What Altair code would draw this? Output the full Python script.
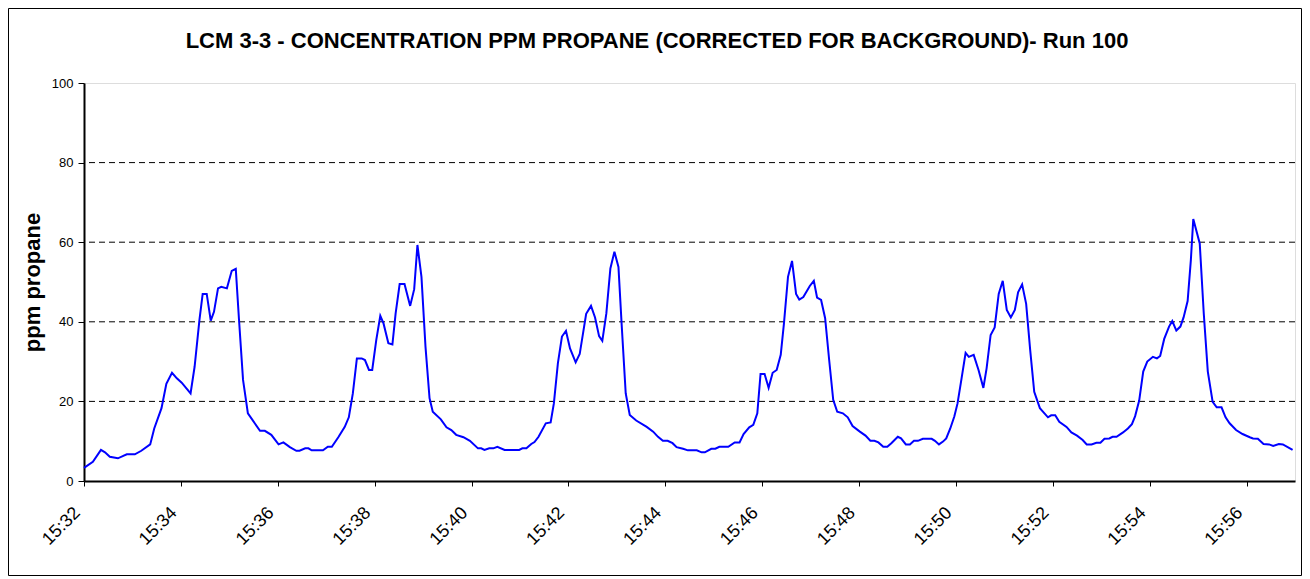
import altair as alt
import pandas as pd

# seconds after 15:32:00 and ppm propane
seconds = [0, 11, 21, 26, 32, 42, 53, 63, 71, 82, 87, 96, 102, 109, 115, 121, 132, 137, 143, 147,
           152, 157, 161, 166, 170, 177, 183, 188, 192, 197, 203, 218, 224, 232, 241, 247, 255, 263, 267, 274,
           278, 282, 296, 302, 307, 315, 323, 328, 333, 338, 344, 348, 353, 357, 362, 367, 371, 377, 382, 386,
           391, 397, 404, 409, 413, 418, 423, 428, 432, 442, 449, 455, 461, 470, 478, 488, 492, 496, 502, 507,
           512, 521, 539, 543, 548, 554, 558, 563, 572, 578, 582, 587, 592, 597, 602, 609, 614, 622, 628, 633,
           638, 642, 647, 652, 657, 662, 666, 671, 676, 684, 697, 705, 711, 717, 723, 729, 734, 742, 748, 759,
           765, 769, 777, 782, 787, 798, 806, 812, 817, 824, 829, 834, 838, 843, 848, 853, 858, 863, 867, 872,
           877, 882, 886, 891, 899, 904, 908, 913, 918, 923, 928, 933, 940, 946, 952, 961, 968, 974, 979, 984,
           990, 995, 1000, 1008, 1012, 1018, 1023, 1028, 1033, 1039, 1050, 1054, 1059, 1064, 1068, 1073, 1078, 1082, 1087, 1092,
           1096, 1102, 1108, 1114, 1118, 1123, 1128, 1133, 1138, 1143, 1148, 1153, 1157, 1162, 1167, 1172, 1177, 1184, 1194, 1198,
           1203, 1208, 1217, 1223, 1230, 1237, 1242, 1248, 1254, 1259, 1264, 1270, 1274, 1279, 1287, 1293, 1298, 1302, 1307, 1312,
           1317, 1324, 1329, 1333, 1338, 1344, 1348, 1353, 1358, 1362, 1367, 1371, 1374, 1382, 1387, 1392, 1398, 1403, 1409, 1414,
           1419, 1427, 1435, 1444, 1448, 1454, 1461, 1468, 1473, 1480, 1485, 1497]
ppm = [3.3, 4.8, 7.8, 7.2, 6.1, 5.7, 6.7, 6.7, 7.6, 9.2, 13.2, 18.3, 24.4, 27.2, 25.8, 24.7, 22.0, 28.7, 40.5, 47.0,
       47.0, 40.3, 42.5, 48.4, 48.8, 48.4, 52.8, 53.3, 40.5, 25.4, 17.0, 12.6, 12.6, 11.6, 9.2, 9.7, 8.5, 7.6, 7.6, 8.2,
       8.2, 7.7, 7.7, 8.6, 8.6, 11.0, 13.6, 16.0, 22.0, 30.8, 30.8, 30.4, 27.9, 27.9, 35.4, 41.5, 39.6, 34.6, 34.3, 42.1,
       49.5, 49.5, 44.0, 48.2, 59.3, 51.3, 33.7, 20.8, 17.4, 15.5, 13.5, 12.8, 11.6, 11.0, 10.1, 8.2, 8.2, 7.8, 8.2, 8.2,
       8.6, 7.8, 7.8, 8.2, 8.2, 9.3, 9.8, 11.1, 14.5, 14.7, 19.5, 29.6, 36.3, 37.7, 33.3, 29.8, 31.9, 42.0, 44.0, 41.1,
       36.4, 35.2, 42.1, 53.4, 57.6, 53.8, 39.2, 22.0, 16.6, 15.2, 13.6, 12.4, 11.1, 10.1, 10.1, 9.5, 8.5, 8.1, 7.7, 7.7,
       7.2, 7.2, 8.1, 8.1, 8.6, 8.6, 9.7, 9.7, 11.8, 13.5, 14.1, 17.0, 26.9, 26.9, 23.4, 27.2, 27.9, 31.7, 39.6, 51.3,
       55.3, 47.0, 45.6, 46.2, 49.0, 50.3, 46.1, 45.5, 40.9, 30.4, 20.4, 17.4, 17.0, 16.0, 13.8, 12.4, 11.4, 10.1, 10.1, 9.7,
       8.6, 8.6, 9.5, 11.1, 10.7, 9.2, 9.2, 10.1, 10.1, 10.6, 10.6, 10.1, 9.2, 9.9, 10.7, 13.2, 16.2, 19.5, 25.8, 32.2,
       31.2, 31.7, 27.9, 23.4, 28.3, 36.7, 38.6, 47.0, 50.3, 43.0, 41.1, 43.0, 47.4, 49.4, 44.5, 32.9, 22.4, 18.3, 16.0, 16.5,
       16.5, 14.9, 13.6, 12.2, 11.4, 10.3, 9.2, 9.2, 9.6, 9.6, 10.6, 10.7, 11.1, 11.1, 12.2, 13.2, 14.3, 16.3, 20.2, 27.5,
       30.0, 31.2, 30.8, 31.4, 35.7, 38.8, 40.2, 37.8, 38.8, 41.1, 45.2, 55.5, 65.8, 59.7, 42.1, 27.5, 19.9, 18.5, 18.5, 16.0,
       14.5, 12.8, 11.8, 11.0, 10.7, 10.6, 9.3, 9.2, 8.8, 9.3, 9.2, 7.8]

x_ticks = [0, 120, 240, 360, 480, 600, 720, 840, 960, 1080, 1200, 1320, 1440]
y_ticks = [0, 20, 40, 60, 80, 100]
grid_levels = [20, 40, 60, 80]

title_text = "LCM 3-3 - CONCENTRATION PPM PROPANE (CORRECTED FOR BACKGROUND)- Run 100"
y_title = "ppm propane"

FONT = "Liberation Sans"
W, H = 1211, 398

df = pd.DataFrame({"sec": seconds, "ppm": ppm})
gdf = pd.DataFrame({"level": grid_levels})
fdf = pd.DataFrame({"t": [title_text]})

y_scale = alt.Scale(domain=[0, 100], nice=False, zero=True)

frame = alt.Chart(fdf).mark_rect(fillOpacity=0, stroke="#000000", strokeWidth=1).encode(
    x=alt.value(-75.5), x2=alt.value(1217.5), y=alt.value(-74.5), y2=alt.value(492.5)
)

title = alt.Chart(fdf).mark_text(
    font=FONT, fontSize=22, fontWeight="bold", color="#000000", align="center", baseline="middle"
).encode(x=alt.value(573), y=alt.value(-42), text="t:N")

grid = alt.Chart(gdf).mark_rule(color="#000000", strokeDash=[6, 4], strokeWidth=1).encode(
    y=alt.Y("level:Q", scale=y_scale, title=y_title)
)

line = alt.Chart(df).mark_line(color="#0000FF", strokeWidth=2).encode(
    x=alt.X(
        "sec:Q",
        scale=alt.Scale(domain=[0, 1500], nice=False, zero=False),
        axis=alt.Axis(
            values=x_ticks,
            labelExpr="'15:' + (32 + datum.value / 60)",
            labelAngle=-45,
            labelAlign="right",
            labelBaseline="middle",
            labelPadding=24,
            labelOffset=-7,
            labelFontSize=18,
            labelFont=FONT,
            labelColor="#000000",
            labelFlush=False,
            labelOverlap=False,
            tickSize=5,
            tickColor="#000000",
            tickWidth=1,
            domainColor="#000000",
            domainWidth=2,
            grid=False,
            title=None,
        ),
    ),
    y=alt.Y(
        "ppm:Q",
        scale=y_scale,
        axis=alt.Axis(
            values=y_ticks,
            labelFontSize=13,
            labelFont=FONT,
            labelColor="#000000",
            labelPadding=5,
            tickSize=6,
            tickColor="#000000",
            tickWidth=1,
            domainColor="#000000",
            domainWidth=2,
            grid=False,
            title=y_title,
            titleFont=FONT,
            titleFontSize=22,
            titleFontWeight="bold",
            titleColor="#000000",
            titleAngle=-90,
            titleAlign="center",
            titleBaseline="middle",
            titleX=-52,
            titleY=199,
        ),
    ),
)

chart = alt.layer(frame, title, grid, line).properties(
    width=W,
    height=H,
    autosize="none",
    padding={"left": 76, "top": 75, "right": 7, "bottom": 95},
).configure_view(stroke="#808080", strokeWidth=2).configure(background="white")

chart.save("out.html", embed_options={"renderer": "svg", "actions": False})
